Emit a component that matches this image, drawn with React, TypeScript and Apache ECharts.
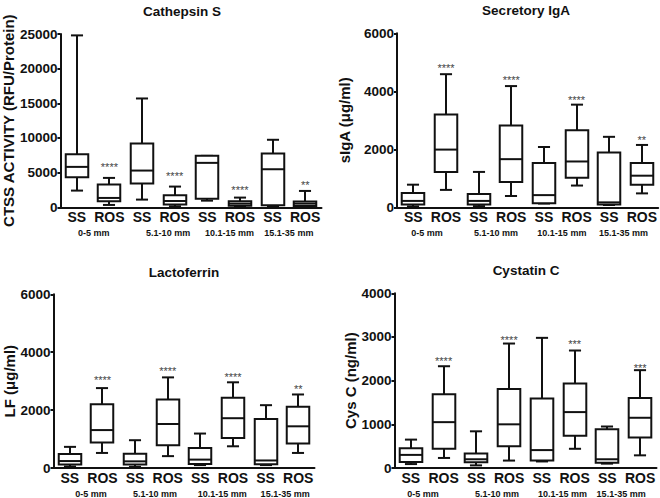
import React, { useEffect, useRef } from "react";
import * as echarts from "echarts";

// ---- data ----
const CATEGORIES = ["SS", "ROS", "SS", "ROS", "SS", "ROS", "SS", "ROS"];
const GROUPS = ["0-5 mm", "5.1-10 mm", "10.1-15 mm", "15.1-35 mm"];
const TITLES = ["Cathepsin S", "Secretory IgA", "Lactoferrin", "Cystatin C"];
const Y_NAMES = ["CTSS ACTIVITY (RFU/Protein)", "sIgA (\u03bcg/ml)", "LF (\u03bcg/ml)", "Cys C (ng/ml)"];
const Y_MAX = [25000, 6000, 6000, 4000];
const Y_INTERVAL = [5000, 2000, 2000, 1000];

// each box: [min, q1, median, q3, max], order SS, ROS, SS, ROS ...
const CTSS_BOXES = [
  [2410, 4340, 5830, 7660, 24800],
  [340, 870, 1350, 3280, 4240],
  [1110, 3420, 5300, 9200, 15700],
  [140, 390, 910, 1730, 2990],
  [960, 1250, 6410, 7420, 7420],
  [80, 240, 530, 870, 1400],
  [140, 290, 5490, 7760, 9740],
  [50, 190, 530, 820, 2360],
];
const SIGA_BOXES = [
  [30, 100, 220, 490, 780],
  [600, 1220, 1990, 3200, 4590],
  [40, 100, 220, 460, 1220],
  [390, 870, 1660, 2820, 4180],
  [130, 140, 420, 1530, 2080],
  [750, 1020, 1580, 2660, 3540],
  [80, 100, 170, 1890, 2430],
  [480, 780, 1090, 1530, 2150],
];
const LF_BOXES = [
  [50, 120, 240, 480, 730],
  [520, 880, 1310, 2200, 2760],
  [40, 120, 230, 490, 960],
  [410, 790, 1520, 2370, 3130],
  [100, 140, 290, 690, 1190],
  [750, 1040, 1720, 2430, 2960],
  [100, 130, 260, 1690, 2170],
  [520, 850, 1440, 2120, 2540],
];
const CYSC_BOXES = [
  [90, 140, 300, 450, 650],
  [230, 440, 1050, 1690, 2330],
  [60, 130, 200, 330, 840],
  [170, 500, 1000, 1810, 2850],
  [150, 170, 410, 1590, 2980],
  [440, 740, 1280, 1935, 2690],
  [100, 120, 200, 890, 950],
  [290, 700, 1150, 1600, 2240],
];
const BOXES = [CTSS_BOXES, SIGA_BOXES, LF_BOXES, CYSC_BOXES];

// significance marks above ROS boxes (category index 1,3,5,7)
const STAR_TEXT = [
  ["****", "****", "****", "**"],
  ["****", "****", "****", "**"],
  ["****", "****", "****", "**"],
  ["****", "****", "***", "***"],
];
const STAR_VALUE = [
  [6246, 4990, 2885, 3693],
  [4907, 4483, 3814, 2434],
  [3136, 3445, 3263, 2827],
  [2521, 2999, 2899, 2368],
];

// ---- layout ----
const GRIDS = [
  { left: 58.5, top: 34, width: 263, height: 173.3 },
  { left: 397, top: 33.3, width: 261.5, height: 174 },
  { left: 53.5, top: 294.3, width: 261, height: 174.7 },
  { left: 394.5, top: 293.3, width: 262, height: 175.7 },
];
const NAME_GAP = [39, 45, 32, 35];
const TITLE_POS = [
  [182, 4],
  [526, 3],
  [184, 265],
  [526, 263],
];
const GROUP_LABEL_POS = [
  [1.02, 3.3, 5.18, 7.0],
  [0.92, 3.03, 5.05, 6.94],
  [1.15, 3.11, 5.17, 7.1],
  [0.87, 3.13, 5.13, 6.92],
];

const FONT = "'Liberation Sans', Arial, Helvetica, sans-serif";
const INK = "#111";

function renderBox(params: any, api: any) {
  const i = api.value(0);
  const pMin = api.coord([i, api.value(1)]);
  const pQ1 = api.coord([i, api.value(2)]);
  const pMed = api.coord([i, api.value(3)]);
  const pQ3 = api.coord([i, api.value(4)]);
  const pMax = api.coord([i, api.value(5)]);
  const band = api.size([1, 0])[0];
  const bw = band * 0.69;
  const cw = band * 0.37;
  const x = Math.round(pMed[0]);
  const st = { stroke: INK, lineWidth: 2, fill: null };
  return {
    type: "group",
    children: [
      { type: "line", shape: { x1: x, y1: pMax[1], x2: x, y2: pQ3[1] }, style: st },
      { type: "line", shape: { x1: x, y1: pQ1[1], x2: x, y2: pMin[1] }, style: st },
      { type: "line", shape: { x1: x - cw / 2, y1: pMax[1], x2: x + cw / 2, y2: pMax[1] }, style: st },
      { type: "line", shape: { x1: x - cw / 2, y1: pMin[1], x2: x + cw / 2, y2: pMin[1] }, style: st },
      {
        type: "rect",
        shape: { x: x - bw / 2, y: pQ3[1], width: bw, height: pQ1[1] - pQ3[1] },
        style: { stroke: INK, lineWidth: 2, fill: "#fff" },
      },
      { type: "line", shape: { x1: x - bw / 2, y1: pMed[1], x2: x + bw / 2, y2: pMed[1] }, style: st },
    ],
  };
}

function buildOption() {
  const grid: any[] = [];
  const xAxis: any[] = [];
  const yAxis: any[] = [];
  const series: any[] = [];
  const title: any[] = [];

  for (let k = 0; k < 4; k++) {
    grid.push({ ...GRIDS[k], containLabel: false });
    title.push({
      text: TITLES[k],
      left: TITLE_POS[k][0],
      top: TITLE_POS[k][1],
      textAlign: "center",
      padding: 0,
      textStyle: { fontFamily: FONT, fontSize: 13.5, fontWeight: "bold", color: INK },
    });
  }
  for (let k = 0; k < 4; k++) {
    xAxis.push({
      type: "category",
      gridIndex: k,
      data: CATEGORIES,
      boundaryGap: true,
      axisLine: { show: true, lineStyle: { color: INK, width: 2 } },
      axisTick: { show: false },
      splitLine: { show: false },
      axisLabel: {
        interval: 0,
        margin: 3,
        fontFamily: FONT,
        fontSize: 14,
        fontWeight: "bold",
        color: INK,
      },
    });
  }
  for (let k = 0; k < 4; k++) {
    const pos = GROUP_LABEL_POS[k];
    xAxis.push({
      type: "value",
      gridIndex: k,
      min: 0,
      max: 8,
      position: "bottom",
      offset: 0,
      axisLine: { show: false },
      axisTick: { show: false },
      splitLine: { show: false },
      axisLabel: {
        customValues: pos,
        margin: 21,
        fontFamily: FONT,
        fontSize: 9,
        fontWeight: "bold",
        color: INK,
        formatter: (v: number) => {
          let best = 0;
          for (let j = 1; j < pos.length; j++) {
            if (Math.abs(pos[j] - v) < Math.abs(pos[best] - v)) best = j;
          }
          return GROUPS[best];
        },
      },
    });
  }
  for (let k = 0; k < 4; k++) {
    yAxis.push({
      type: "value",
      gridIndex: k,
      min: 0,
      max: Y_MAX[k],
      interval: Y_INTERVAL[k],
      axisLine: { show: true, lineStyle: { color: INK, width: 2 } },
      axisTick: { show: true, length: 3, lineStyle: { color: INK, width: 2 } },
      splitLine: { show: false },
      axisLabel: {
        margin: 3,
        fontFamily: FONT,
        fontSize: 13.5,
        fontWeight: "bold",
        color: INK,
        formatter: (v: number) => String(v),
      },
      name: Y_NAMES[k],
      nameLocation: "middle",
      nameGap: NAME_GAP[k],
      nameTextStyle: { fontFamily: FONT, fontSize: 15, fontWeight: "bold", color: INK },
    });
  }
  for (let k = 0; k < 4; k++) {
    series.push({
      type: "custom",
      xAxisIndex: k,
      yAxisIndex: k,
      renderItem: renderBox,
      encode: { x: 0, y: [1, 2, 3, 4, 5] },
      data: BOXES[k].map((b, i) => [i, ...b]),
      z: 2,
    });
    series.push({
      type: "scatter",
      xAxisIndex: k,
      yAxisIndex: k,
      symbol: "circle",
      symbolSize: 1,
      itemStyle: { color: "#444", opacity: 0 },
      data: STAR_VALUE[k].map((v, j) => [2 * j + 1, v]),
      label: {
        show: true,
        position: "inside",
        offset: [0, 3],
        formatter: (p: any) => STAR_TEXT[k][p.dataIndex],
        fontFamily: FONT,
        fontSize: 11,
        color: "#444",
        opacity: 1,
        textBorderWidth: 0,
        textBorderColor: "transparent",
      },
      z: 3,
    });
  }
  return {
    animation: false,
    backgroundColor: "#fff",
    title,
    grid,
    xAxis,
    yAxis,
    series,
  };
}

export default function App() {
  const ref = useRef<HTMLDivElement>(null);
  useEffect(() => {
    if (!ref.current) return;
    const chart = echarts.init(ref.current, undefined, { renderer: "svg" });
    chart.setOption(buildOption() as any);
    return () => chart.dispose();
  }, []);
  return (
    <div
      ref={ref}
      style={{ position: "absolute", left: 0, top: 0, width: 660, height: 498, background: "#fff" }}
    />
  );
}
